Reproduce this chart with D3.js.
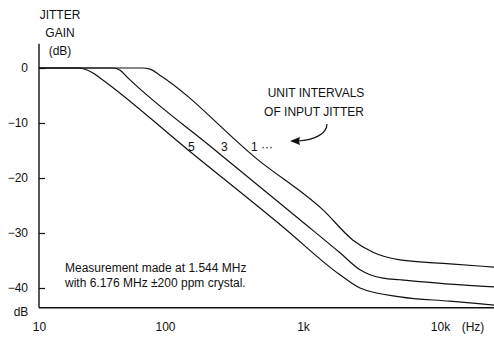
<!DOCTYPE html>
<html>
<head>
<meta charset="utf-8">
<script src="https://cdn.jsdelivr.net/npm/d3@7"></script>
<style>
	html, body { margin: 0; padding: 0; background: #fff; }
	svg { display: block; font-family: 'Liberation Sans', Arial, sans-serif; }
	.lbl { font-size: 12px; fill: #111; }
</style>
</head>
<body>
<div class="jitter-chart"></div>
<script>
// frequencies (Hz) and jitter gain (dB)
const ui1Freq = [10, 66, 76, 91, 472, 1400, 2317, 3243, 5105, 11830, 25000];
const ui1Gain = [0, 0, -0.2, -1.3, -16.7, -25.8, -31.3, -33.5, -34.9, -35.6, -36.2];
const ui3Freq = [10, 38.6, 44, 50.8, 230, 951, 1862, 2607, 3083, 3835, 5105, 11830, 25000];
const ui3Gain = [0, 0, -0.4, -1.8, -14.9, -27.6, -33.6, -36.7, -37.6, -38.2, -38.5, -39.3, -39.8];
const ui5Freq = [10, 20.4, 26.8, 30.5, 147, 716, 1862, 2607, 5105, 11830, 25000];
const ui5Gain = [0, 0, -0.9, -1.8, -14.9, -28.9, -37.6, -40.0, -41.6, -42.4, -43.1];

const curveLabels = ['5', '3', '1 \u00b7\u00b7\u00b7'];
const xTicks = [10, 100, 1000, 10000];
const xTickLabels = ['10', '100', '1k', '10k'];
const yTicks = [0, -10, -20, -30, -40];

function drawChart() {
	let width = 494,
		height = 337,
		// hand drawn log axis, decades are not quite even
		xScale = d3.scaleLog().domain([10, 100, 1000, 10000, 25000]).range([39, 165, 303, 440, 494]),
		yScale = d3.scaleLinear().domain([-40, 0]).range([288, 68]),
		yTop = 4.4,
		yBottom = -43.6,
		svg = null,
		line = null;

	svg = d3.select('.jitter-chart').append('svg')
		.attr('width', width)
		.attr('height', height);

	// axes
	svg.append('line')
		.attr('x1', xScale(10)).attr('x2', xScale(10))
		.attr('y1', yScale(yTop)).attr('y2', yScale(yBottom))
		.attr('stroke', '#111').attr('stroke-width', 1.4);
	svg.append('line')
		.attr('x1', xScale(10)).attr('x2', width)
		.attr('y1', yScale(yBottom)).attr('y2', yScale(yBottom))
		.attr('stroke', '#111').attr('stroke-width', 1.4);

	let gy = svg.append('g')
		.attr('transform', 'translate(' + xScale(10) + ',0)')
		.call(d3.axisLeft(yScale).tickValues(yTicks).tickSize(-6).tickPadding(11));
	gy.select('.domain').remove();
	gy.selectAll('line').attr('stroke', '#111').attr('stroke-width', 1.2);
	gy.selectAll('text').attr('class', 'lbl').attr('font-size', null).attr('font-family', null);

	let gx = svg.append('g')
		.attr('transform', 'translate(0,' + yScale(yBottom) + ')')
		.call(d3.axisBottom(xScale).tickValues(xTicks).tickSize(0).tickPadding(15)
			.tickFormat((d, i) => xTickLabels[i]));
	gx.select('.domain').remove();
	gx.selectAll('text').attr('class', 'lbl').attr('font-size', null).attr('font-family', null);

	svg.append('text').attr('class', 'lbl')
		.attr('x', 473).attr('y', yScale(yBottom) + 15).attr('dy', '0.71em')
		.attr('text-anchor', 'middle').text('(Hz)');
	svg.append('text').attr('class', 'lbl')
		.attr('x', 21).attr('y', 316).attr('text-anchor', 'middle').text('dB');

	// y title
	['JITTER', 'GAIN', '(dB)'].forEach((t, i) => {
		svg.append('text').attr('class', 'lbl')
			.attr('x', 60).attr('y', 19 + i * 18)
			.attr('text-anchor', 'middle').text(t);
	});

	// curves
	line = d3.line()
		.curve(d3.curveMonotoneX)
		.x(d => xScale(d[0]))
		.y(d => yScale(d[1]));

	[[ui1Freq, ui1Gain], [ui3Freq, ui3Gain], [ui5Freq, ui5Gain]].forEach(s => {
		svg.append('path')
			.datum(d3.zip(s[0], s[1]))
			.attr('fill', 'none')
			.attr('stroke', '#111')
			.attr('stroke-width', 1.2)
			.attr('d', line);
	});

	// curve labels
	svg.append('text').attr('class', 'lbl').attr('x', 188).attr('y', 151).text(curveLabels[0]);
	svg.append('text').attr('class', 'lbl').attr('x', 221).attr('y', 151).text(curveLabels[1]);
	svg.append('text').attr('class', 'lbl').attr('x', 251).attr('y', 151).text(curveLabels[2]);

	// annotation
	svg.append('text').attr('class', 'lbl').attr('x', 316).attr('y', 97)
		.attr('text-anchor', 'middle').text('UNIT INTERVALS');
	svg.append('text').attr('class', 'lbl').attr('x', 314).attr('y', 116)
		.attr('text-anchor', 'middle').text('OF INPUT JITTER');

	svg.append('path')
		.attr('d', 'M327,124 C327,134 314,140 298,141')
		.attr('fill', 'none').attr('stroke', '#111').attr('stroke-width', 1.2);
	svg.append('path')
		.attr('d', 'M290,141 L300,137 L299,141 L300,145 Z')
		.attr('fill', '#111');

	svg.append('text').attr('class', 'lbl').attr('x', 65).attr('y', 272)
		.text('Measurement made at 1.544 MHz');
	svg.append('text').attr('class', 'lbl').attr('x', 65).attr('y', 287)
		.text('with 6.176 MHz \u00b1200 ppm crystal.');
}

drawChart();
</script>
</body>
</html>
